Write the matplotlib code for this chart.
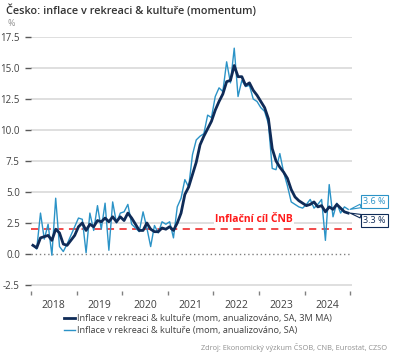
import matplotlib
matplotlib.use("Agg")
import matplotlib.pyplot as plt
import numpy as np

plt.rcParams['font.family'] = ['Open Sans', 'DejaVu Sans']

years = ['2018', '2019', '2020', '2021', '2022', '2023', '2024']

sa_mom = [0.7, 0.4, 3.3, 1.2, 2.4, -0.1, 4.5, 0.6, 0.2, 0.8, 1.5, 2.2,
          2.9, 2.8, 0.1, 3.3, 1.9, 3.9, 2.0, 4.1, 0.3, 4.2, 2.5, 3.3,
          3.4, 4.0, 2.4, 2.1, 1.8, 3.4, 2.1, 0.6, 2.3, 1.7, 2.6, 2.4,
          2.6, 1.3, 3.8, 4.5, 6.0, 5.4, 8.0, 9.2, 9.5, 9.7, 11.2, 11.0,
          12.7, 13.4, 13.1, 15.5, 13.8, 16.6, 12.7, 14.0, 13.5, 13.6, 12.5, 12.3,
          11.8, 11.5, 10.5, 6.9, 6.8, 8.1, 6.6, 5.5, 4.2, 4.0, 3.8, 3.7,
          4.0, 4.4, 3.7, 4.0, 4.4, 1.1, 5.6, 3.0, 4.1, 3.3, 3.8, 3.6]

ma3 = [0.7, 0.5, 1.3, 1.4, 1.5, 1.1, 2.0, 1.7, 0.8, 0.7, 1.1, 1.5,
       2.2, 2.5, 1.9, 2.4, 2.2, 2.7, 2.6, 2.9, 2.6, 3.0, 2.6, 3.0,
       2.7, 3.3, 2.9, 2.4, 1.9, 1.9, 2.5, 2.0, 1.8, 1.8, 2.1, 2.0,
       2.2, 1.9, 2.5, 3.3, 4.8, 5.4, 6.4, 7.4, 8.8, 9.5, 10.1, 10.7,
       11.6, 12.3, 12.9, 13.9, 14.0, 15.2, 14.3, 14.3, 13.6, 13.8, 13.2, 12.8,
       12.3, 11.8, 10.9, 8.5, 7.5, 7.0, 6.6, 6.1, 5.2, 4.6, 4.3, 4.1,
       3.9, 4.0, 4.2, 3.8, 3.9, 3.4, 3.8, 3.6, 4.0, 3.7, 3.4, 3.3]

target = 2.0
yticks = [-2.5, 0.0, 2.5, 5.0, 7.5, 10.0, 12.5, 15.0, 17.5]

dark = '#0f2b57'
light = '#2b93c7'
red = '#f03c3c'
txt = '#404040'

fig = plt.figure(figsize=(3.97, 3.61), dpi=100)
ax = fig.add_axes([31/397, 1-291.2/361, 321/397, 254.2/361])

x = np.arange(len(sa_mom))
ax.set_xlim(-0.5, 84.0)
ax.set_ylim(-3.0, 17.5)

for v in yticks:
    if v != 0:
        ax.axhline(v, color='#d9d9d9', lw=1.2, zorder=0)
ax.axhline(0, color='#808080', lw=1.0, ls=(0, (1, 2)), zorder=1)
ax.axhline(target, color=red, lw=1.3, ls=(0, (4, 3)), zorder=1)

ax.plot(x, sa_mom, color=light, lw=1.0, zorder=3)
ax.plot(x, ma3, color=dark, lw=2.0, zorder=4)

ax.text(58.2, 2.8, 'Inflační cíl ČNB', color='#ff1a1a', fontsize=7.5, fontweight='bold',
        ha='center', va='center', zorder=2,
        bbox=dict(boxstyle='square,pad=0.15', fc='white', ec='none'))

for s in ax.spines.values():
    s.set_visible(False)

ax.set_yticks(yticks)
ax.set_yticklabels([f'{v:.1f}' for v in yticks], fontsize=7, color=txt)
ax.tick_params(axis='y', length=4, width=1, color='#595959', pad=4)

ax.set_xticks([12*k - 0.5 for k in range(8)])
ax.set_xticklabels([])
ax.set_xticks([12*k + 5.5 for k in range(7)], minor=True)
ax.set_xticklabels(years, minor=True, fontsize=7.5, color=txt)
ax.tick_params(axis='x', which='major', length=3, width=1, color='#808080')
ax.tick_params(axis='x', which='minor', length=0, pad=6)

fig.text(6/397, 1-11/361, 'Česko: inflace v rekreaci & kultuře (momentum)',
         fontsize=7.8, color='#333333', fontweight='semibold', va='center', ha='left')
fig.text(8/397, 1-23/361, '%', fontsize=6.5, color='#909090', va='center', ha='left')

ax.annotate(f'{sa_mom[-1]:.1f} %', xy=(x[-1]+0.5, sa_mom[-1]), xytext=(9.5, 5.7),
            textcoords='offset points', fontsize=6.5, color=light, va='center', ha='left',
            annotation_clip=False,
            bbox=dict(boxstyle='square,pad=0.25', fc='white', ec=light, lw=0.8),
            arrowprops=dict(arrowstyle='wedge,tail_width=0.4,shrink_factor=0.5',
                            fc='white', ec=light, lw=0.8, shrinkA=0, shrinkB=0))
ax.annotate(f'{ma3[-1]:.1f} %', xy=(x[-1]+0.5, ma3[-1]), xytext=(9.5, -5.2),
            textcoords='offset points', fontsize=6.5, color=dark, va='center', ha='left',
            annotation_clip=False,
            bbox=dict(boxstyle='square,pad=0.25', fc='white', ec=dark, lw=0.8),
            arrowprops=dict(arrowstyle='wedge,tail_width=0.4,shrink_factor=0.5',
                            fc='white', ec=dark, lw=0.8, shrinkA=0, shrinkB=0))

h1, = ax.plot([], [], color=dark, lw=2.0)
h2, = ax.plot([], [], color=light, lw=1.0)
fig.legend([h1, h2], ['Inflace v rekreaci & kultuře (mom, anualizováno, SA, 3M MA)',
                      'Inflace v rekreaci & kultuře (mom, anualizováno, SA)'],
           loc='center', bbox_to_anchor=(198/397, 1-324.5/361), frameon=False,
           fontsize=6.6, handlelength=1.2, handletextpad=0.3, labelspacing=0.35,
           labelcolor=txt)

fig.text(387/397, 1-348/361, 'Zdroj: Ekonomický výzkum ČSOB, CNB, Eurostat, CZSO',
         fontsize=5.3, color='#909090', ha='right', va='center')

fig.savefig('out.png', dpi=100)
